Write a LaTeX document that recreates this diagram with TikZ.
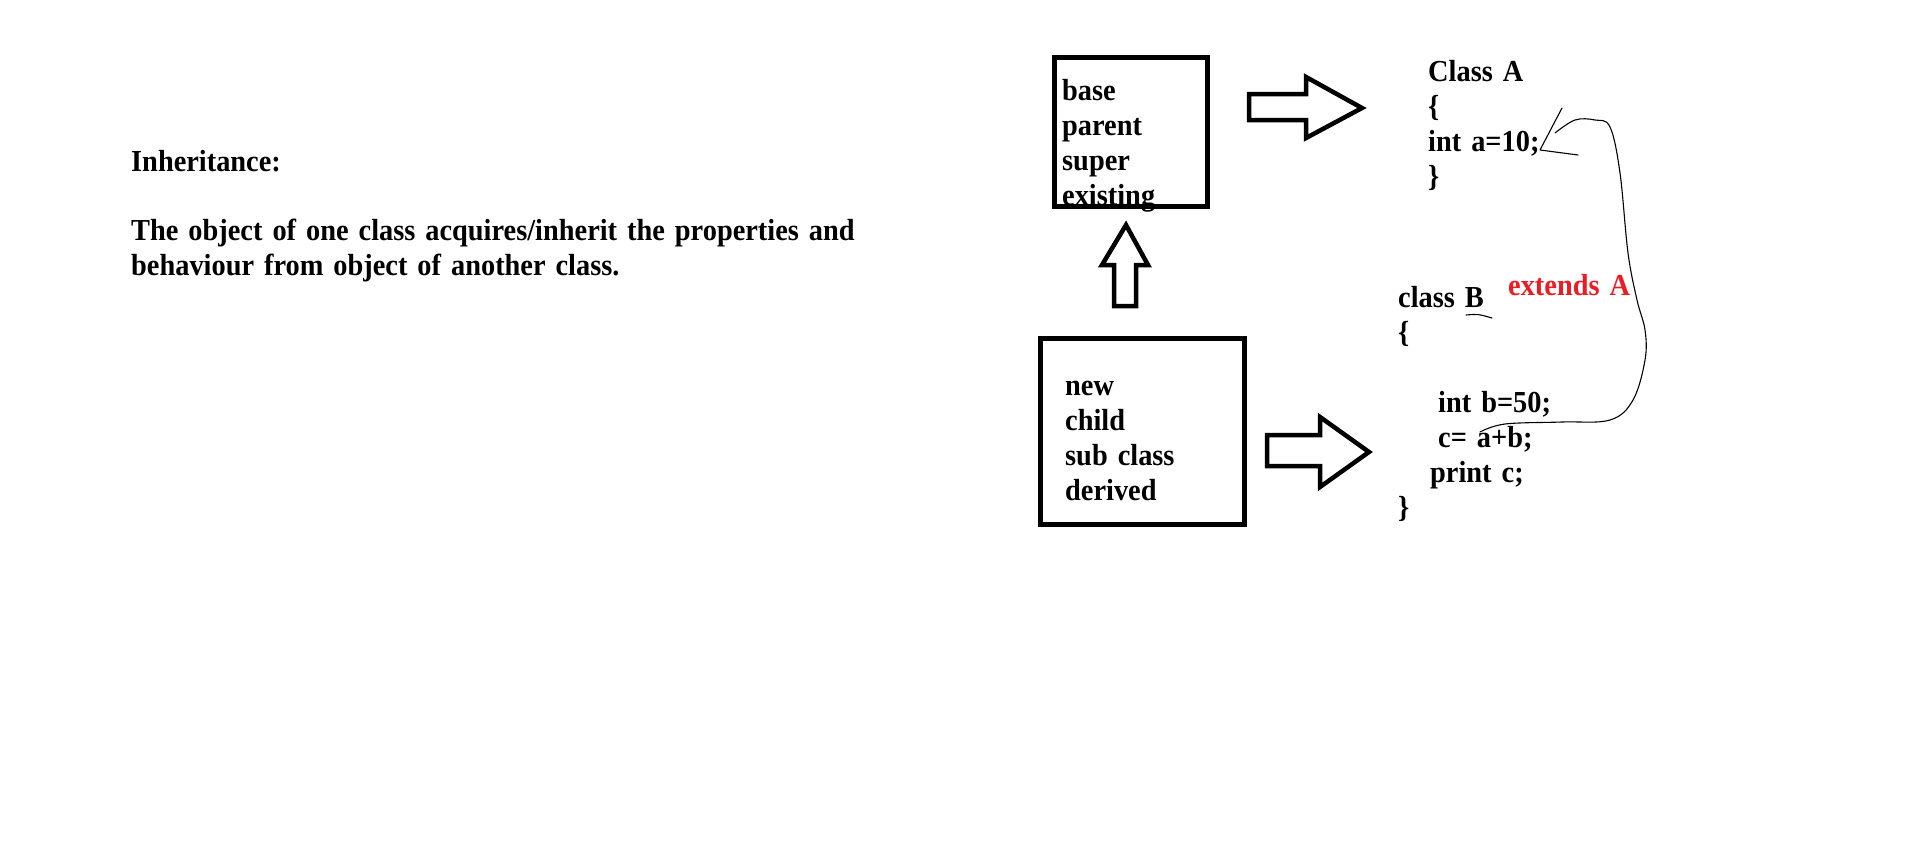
\documentclass[tikz,border=0pt]{standalone}
\usepackage{fontspec}
\setmainfont{Liberation Serif}[FakeStretch=0.93]
\definecolor{paintred}{RGB}{237,28,36}
\newcommand\paintfont{\fontsize{30.5}{35}\selectfont\bfseries\spaceskip 10pt\relax}
\tikzset{
  txt/.style={anchor=base west, inner sep=0pt, align=left, font=\paintfont},
  box/.style={draw, line width=5pt, anchor=north west, inner sep=0pt, outer sep=0pt},
  fat/.style={draw, line width=4.5pt, line join=miter},
  pen/.style={draw, line width=1.1pt, line cap=round, line join=round}
}
\begin{document}
\begin{tikzpicture}[x=1pt, y=-1pt]
  \useasboundingbox (0,0) rectangle (1914,854);

  % definition (multi-line nodes sit on their last baseline)
  \node[txt] (title) at (131,171) {Inheritance:};
  \node[txt] (defn) at (131,275) {The object of one class acquires/inherit the properties and\\behaviour from object of another class.};

  % the two boxes
  \node[txt] (basetxt) at (1062,205) {base\\parent\\super\\existing};
  \node[box, minimum width=153pt, minimum height=149pt] (basebox) at (1054.5,57.5) {};
  \node[txt] (newtxt) at (1065,500) {new\\child\\sub class\\derived};
  \node[box, minimum width=204pt, minimum height=186pt] (newbox) at (1040.5,338.5) {};

  % block arrows
  \draw[fat] (1249,94) -- (1306,94) -- (1306,77) -- (1362,108) -- (1306,138) -- (1306,120) -- (1249,120) -- cycle;
  \draw[fat] (1114,306) -- (1114,265) -- (1102,265) -- (1126,225) -- (1148,265) -- (1136,265) -- (1136,306) -- cycle;
  \draw[fat] (1267,435) -- (1320,435) -- (1320,417) -- (1369,452) -- (1320,487) -- (1320,466) -- (1267,466) -- cycle;

  % code
  \node[txt] (clsA) at (1428,186) {Class A\\\{\\int a=10;\\\}};
  \node[txt] (clsB) at (1398,342) {class B\\\{};
  \node[txt] (bodyB) at (1438,447) {int b=50;\\c= a+b;};
  \node[txt] (printB) at (1430,482) {print c;};
  \node[txt] (endB) at (1398,517) {\}};
  \node[txt, text=paintred] (ext) at (1508,295) {extends A};

  % hand drawn marks
  \coordinate (from) at (1480,432);
  \coordinate (to) at (1540,150);
  \draw[pen] (1466,315) .. controls (1478,314) .. (1492,318);
  \draw[pen] plot[smooth, tension=0.6] coordinates {(from) (1505,424) (1562,422) (1610,420) (1633,400) (1645,360) (1645,330) (1637,300) (1628,253) (1620,173) (1610,127) (1595,120) (1575,120) (1555,133)};
  \draw[pen] (1562,108) -- (to) -- (1578,155);
\end{tikzpicture}
\end{document}
